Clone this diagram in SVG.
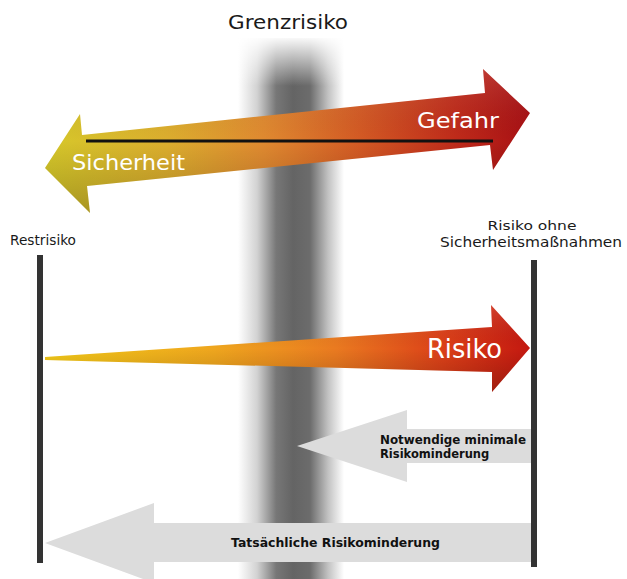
<svg xmlns="http://www.w3.org/2000/svg" width="627" height="579" viewBox="0 0 627 579">
  <defs>
    <linearGradient id="band" gradientUnits="userSpaceOnUse" x1="238" y1="0" x2="344" y2="0">
      <stop offset="0" stop-color="#ffffff"/>
      <stop offset="0.18" stop-color="#d2d2d2"/>
      <stop offset="0.36" stop-color="#777777"/>
      <stop offset="0.52" stop-color="#646464"/>
      <stop offset="0.68" stop-color="#6c6c6c"/>
      <stop offset="0.85" stop-color="#c2c2c2"/>
      <stop offset="1" stop-color="#ffffff"/>
    </linearGradient>
    <linearGradient id="bandTop" x1="0" y1="0" x2="0" y2="1">
      <stop offset="0" stop-color="#ffffff" stop-opacity="1"/>
      <stop offset="1" stop-color="#ffffff" stop-opacity="0"/>
    </linearGradient>
    <linearGradient id="topArrow" gradientUnits="userSpaceOnUse" x1="45" y1="0" x2="530" y2="0">
      <stop offset="0" stop-color="#d6c82a"/>
      <stop offset="0.25" stop-color="#dcae2e"/>
      <stop offset="0.45" stop-color="#e08a30"/>
      <stop offset="0.65" stop-color="#d45a24"/>
      <stop offset="0.85" stop-color="#bf2a1a"/>
      <stop offset="1" stop-color="#a81014"/>
    </linearGradient>
    <linearGradient id="riskArrow" gradientUnits="userSpaceOnUse" x1="45" y1="0" x2="530" y2="0">
      <stop offset="0" stop-color="#f2c818"/>
      <stop offset="0.35" stop-color="#efa61e"/>
      <stop offset="0.6" stop-color="#ea7a20"/>
      <stop offset="0.82" stop-color="#dc4018"/>
      <stop offset="1" stop-color="#c41810"/>
    </linearGradient>
    <linearGradient id="shade" x1="0" y1="0" x2="0" y2="1">
      <stop offset="0" stop-color="#ffffff" stop-opacity="0.12"/>
      <stop offset="0.5" stop-color="#000000" stop-opacity="0"/>
      <stop offset="1" stop-color="#000000" stop-opacity="0.22"/>
    </linearGradient>
  </defs>
  <style>
    .geo { font-family: "DejaVu Sans", "Liberation Sans", sans-serif; }
    .white { fill: #ffffff; }
    .dark { fill: #1a1a1a; }
    .bold { font-family: "DejaVu Sans", "Liberation Sans", sans-serif; font-weight: bold; font-size: 11.5px; fill: #111111; }
    .grey-arrow { fill: #dcdcdc; }
    .post { fill: #333333; }
  </style>

  <g id="grenzrisiko">
    <rect x="238" y="38" width="106" height="541" fill="url(#band)"/>
    <rect x="228" y="36" width="126" height="50" fill="url(#bandTop)"/>
    <text class="geo dark" x="288" y="29" font-size="20" text-anchor="middle" textLength="120" lengthAdjust="spacingAndGlyphs">Grenzrisiko</text>
  </g>

  <g id="sicherheit-gefahr">
    <polygon points="45,168 80,114 82,135 485,93 483,69 530,113 493,170 490,145 87,186 90,213" fill="url(#topArrow)"/>
    <polygon points="45,168 80,114 82,135 485,93 483,69 530,113 493,170 490,145 87,186 90,213" fill="url(#shade)"/>
    <line x1="86" y1="141" x2="493" y2="141" stroke="#111111" stroke-width="3"/>
    <text class="geo white" x="72" y="170" font-size="22" textLength="113" lengthAdjust="spacingAndGlyphs">Sicherheit</text>
    <text class="geo white" x="417" y="128" font-size="22" textLength="82" lengthAdjust="spacingAndGlyphs">Gefahr</text>
  </g>

  <g id="restrisiko">
    <text class="geo dark" x="10" y="245" font-size="14" textLength="66" lengthAdjust="spacingAndGlyphs">Restrisiko</text>
    <rect class="post" x="37" y="255" width="6" height="308"/>
  </g>

  <g id="risiko-ohne">
    <text class="geo dark" x="532" y="230" font-size="13" text-anchor="middle" textLength="89" lengthAdjust="spacingAndGlyphs">Risiko ohne</text>
    <text class="geo dark" x="531" y="247" font-size="14" text-anchor="middle" textLength="182" lengthAdjust="spacingAndGlyphs">Sicherheitsmaßnahmen</text>
  </g>

  <g id="risiko">
    <polygon points="45,357 492,327 491,305 530,348 492,392 492,372 45,360" fill="url(#riskArrow)"/>
    <polygon points="45,357 492,327 491,305 530,348 492,392 492,372 45,360" fill="url(#shade)"/>
    <text class="geo white" x="427" y="358" font-size="26" textLength="75" lengthAdjust="spacingAndGlyphs">Risiko</text>
  </g>

  <g id="notwendige">
    <polygon class="grey-arrow" points="297,446 407,410 407,429 531,429 531,463 407,463 407,482"/>
    <text class="bold" x="380" y="444" textLength="146" lengthAdjust="spacingAndGlyphs">Notwendige minimale</text>
    <text class="bold" x="380" y="458">Risikominderung</text>
  </g>

  <g id="tatsaechliche">
    <polygon class="grey-arrow" points="45,543 154,503 154,523 531,523 531,562 154,562 154,583"/>
    <text class="bold" x="231" y="547" font-size="12.5" textLength="209" lengthAdjust="spacingAndGlyphs">Tatsächliche Risikominderung</text>
  </g>

  <g id="connectors">
    <rect class="post" x="531" y="260" width="6" height="307"/>
  </g>
</svg>
